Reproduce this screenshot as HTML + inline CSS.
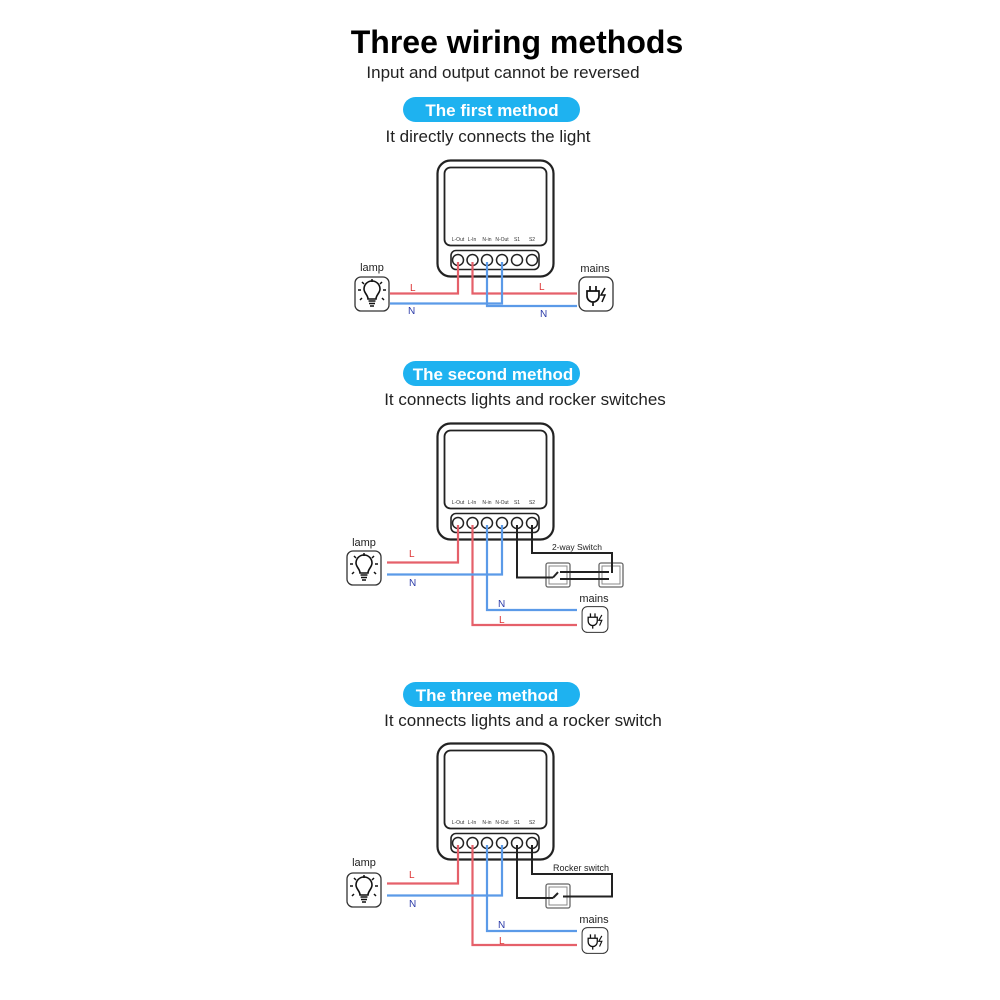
<!DOCTYPE html>
<html><head><meta charset="utf-8"><style>
html,body{margin:0;padding:0;background:#fff;}
svg{display:block;}
text{font-family:"Liberation Sans",sans-serif;}
</style></head><body>
<svg width="1000" height="1000" viewBox="0 0 1000 1000" xmlns="http://www.w3.org/2000/svg">
<defs>
<g id="dev">
  <rect x="437.5" y="160.5" width="116" height="116" rx="13" fill="#fff" stroke="#222" stroke-width="2.2"/>
  <rect x="444.5" y="167.5" width="102" height="78" rx="6" fill="#fff" stroke="#222" stroke-width="1.8"/>
  <g font-size="5" fill="#333" text-anchor="middle">
    <text x="458" y="241">L-Out</text><text x="472" y="241">L-In</text>
    <text x="487" y="241">N-in</text><text x="502" y="241">N-Out</text>
    <text x="517" y="241">S1</text><text x="532" y="241">S2</text>
  </g>
  <rect x="451" y="250.5" width="88" height="19" rx="5" fill="#fff" stroke="#222" stroke-width="1.6"/>
  <g fill="#fff" stroke="#222" stroke-width="1.5">
    <circle cx="458" cy="260" r="5.5"/><circle cx="472.5" cy="260" r="5.5"/><circle cx="487" cy="260" r="5.5"/>
    <circle cx="502" cy="260" r="5.5"/><circle cx="517" cy="260" r="5.5"/><circle cx="532" cy="260" r="5.5"/>
  </g>
</g>
<g id="bulb">
  <rect x="-17" y="-17" width="34" height="34" rx="6" fill="#fff" stroke="#333" stroke-width="1.3"/>
  <path d="M-4,5 C-4,1 -8,-1 -8,-5 A8,8 0 1 1 8,-5 C8,-1 4,1 4,5 Z" fill="none" stroke="#111" stroke-width="1.6"/>
  <path d="M-3.5,7 H3.5 M-3,9.5 H3 M-2,12 H2" stroke="#111" stroke-width="1.6"/>
  <path d="M0,-17 M0,-15 V-12 M-10,-12 L-8,-10 M10,-12 L8,-10 M-14,-4 H-11 M14,-4 H11 M-10,4 L-12,6 M10,4 L12,6" stroke="#111" stroke-width="1.5"/>
</g>
<g id="plug">
  <rect x="-17" y="-17" width="34" height="34" rx="7" fill="#fff" stroke="#333" stroke-width="1.3"/>
  <path d="M-9,-3 H3 V2 A6,6 0 0 1 -9,2 Z M-6,-3 V-8 M0,-3 V-8 M-3,8 V12" fill="none" stroke="#111" stroke-width="1.7"/>
  <path d="M9,-6 L5,1 H9 L6,8" fill="none" stroke="#111" stroke-width="1.5"/>
</g>
<g id="sw">
  <rect x="-12" y="-12" width="24" height="24" rx="2" fill="#fff" stroke="#666" stroke-width="1.3"/>
  <rect x="-9" y="-9" width="18" height="18" fill="#fff" stroke="#888" stroke-width="1"/>
</g>
</defs>

<text x="517" y="53" font-size="32" font-weight="bold" text-anchor="middle" fill="#000">Three  wiring methods</text>
<text x="503" y="78" font-size="17" text-anchor="middle" fill="#222">Input and output cannot be reversed</text>

<!-- Section 1 -->
<rect x="403" y="97" width="177" height="25" rx="12.5" fill="#1eb2f0"/>
<text x="492" y="116" font-size="17" font-weight="bold" fill="#fff" text-anchor="middle">The first method</text>
<text x="488" y="142" font-size="17" text-anchor="middle" fill="#222">It directly connects the light</text>
<use href="#dev"/>
<g fill="none" stroke-width="2.2">
  <path d="M390,293.5 H458 V262" stroke="#e5606a"/>
  <path d="M472.5,262 V293.5 H577" stroke="#e5606a"/>
  <path d="M390,303.5 H502 V262" stroke="#5b9ae8"/>
  <path d="M487,262 V306 H577" stroke="#5b9ae8"/>
</g>
<use href="#bulb" x="372" y="294"/>
<use href="#plug" x="596" y="294"/>
<text x="372" y="271" font-size="11" text-anchor="middle" fill="#222">lamp</text>
<text x="595" y="272" font-size="11" text-anchor="middle" fill="#222">mains</text>
<text x="410" y="291" font-size="10" fill="#d33">L</text>
<text x="539" y="290" font-size="10" fill="#d33">L</text>
<text x="408" y="314" font-size="10" fill="#2a3aa8">N</text>
<text x="540" y="317" font-size="10" fill="#2a3aa8">N</text>

<!-- Section 2 -->
<rect x="403" y="361" width="177" height="25" rx="12.5" fill="#1eb2f0"/>
<text x="493" y="380" font-size="17" font-weight="bold" fill="#fff" text-anchor="middle">The second method</text>
<text x="525" y="405" font-size="17" text-anchor="middle" fill="#222">It connects lights and rocker switches</text>
<use href="#dev" y="263"/>
<g fill="none" stroke-width="2.2">
  <path d="M387,562.5 H458 V525" stroke="#e5606a"/>
  <path d="M472.5,525 V625 H577" stroke="#e5606a"/>
  <path d="M387,574.5 H502 V525" stroke="#5b9ae8"/>
  <path d="M487,525 V610 H577" stroke="#5b9ae8"/>
</g>
<use href="#sw" x="558" y="575"/>
<use href="#sw" x="611" y="575"/>
<g fill="none" stroke="#222" stroke-width="2">
  <path d="M517,525 V577.5 H553"/>
  <path d="M532,525 V553 H612 V573"/>
  <path d="M560,572 H609 M560,579 H609"/>
  <path d="M553,577.5 L558,572"/>
</g>
<text x="364" y="546" font-size="11" text-anchor="middle" fill="#222">lamp</text>
<use href="#bulb" x="364" y="568"/>
<text x="577" y="550" font-size="8.5" text-anchor="middle" fill="#222">2-way Switch</text>
<text x="594" y="602" font-size="11" text-anchor="middle" fill="#222">mains</text>
<g transform="translate(595,619.5) scale(0.76)"><use href="#plug"/></g>
<text x="409" y="557" font-size="10" fill="#d33">L</text>
<text x="409" y="586" font-size="10" fill="#2a3aa8">N</text>
<text x="498" y="607" font-size="10" fill="#2a3aa8">N</text>
<text x="499" y="623" font-size="10" fill="#d33">L</text>

<!-- Section 3 -->
<rect x="403" y="682" width="177" height="25" rx="12.5" fill="#1eb2f0"/>
<text x="487" y="701" font-size="17" font-weight="bold" fill="#fff" text-anchor="middle">The three method</text>
<text x="523" y="726" font-size="17" text-anchor="middle" fill="#222">It connects lights and a rocker switch</text>
<use href="#dev" y="583"/>
<g fill="none" stroke-width="2.2">
  <path d="M387,883.5 H458 V845" stroke="#e5606a"/>
  <path d="M472.5,845 V945 H577" stroke="#e5606a"/>
  <path d="M387,895.5 H502 V845" stroke="#5b9ae8"/>
  <path d="M487,845 V931 H577" stroke="#5b9ae8"/>
</g>
<use href="#sw" x="558" y="896"/>
<g fill="none" stroke="#222" stroke-width="2">
  <path d="M517,845 V898 H553"/>
  <path d="M532,845 V874 H612 V896.5 H563"/>
  <path d="M553,898 L558,893"/>
</g>
<text x="364" y="866" font-size="11" text-anchor="middle" fill="#222">lamp</text>
<use href="#bulb" x="364" y="890"/>
<text x="581" y="871" font-size="9" text-anchor="middle" fill="#222">Rocker switch</text>
<text x="594" y="923" font-size="11" text-anchor="middle" fill="#222">mains</text>
<g transform="translate(595,940.5) scale(0.76)"><use href="#plug"/></g>
<text x="409" y="878" font-size="10" fill="#d33">L</text>
<text x="409" y="907" font-size="10" fill="#2a3aa8">N</text>
<text x="498" y="928" font-size="10" fill="#2a3aa8">N</text>
<text x="499" y="944" font-size="10" fill="#d33">L</text>
</svg>
</body></html>
